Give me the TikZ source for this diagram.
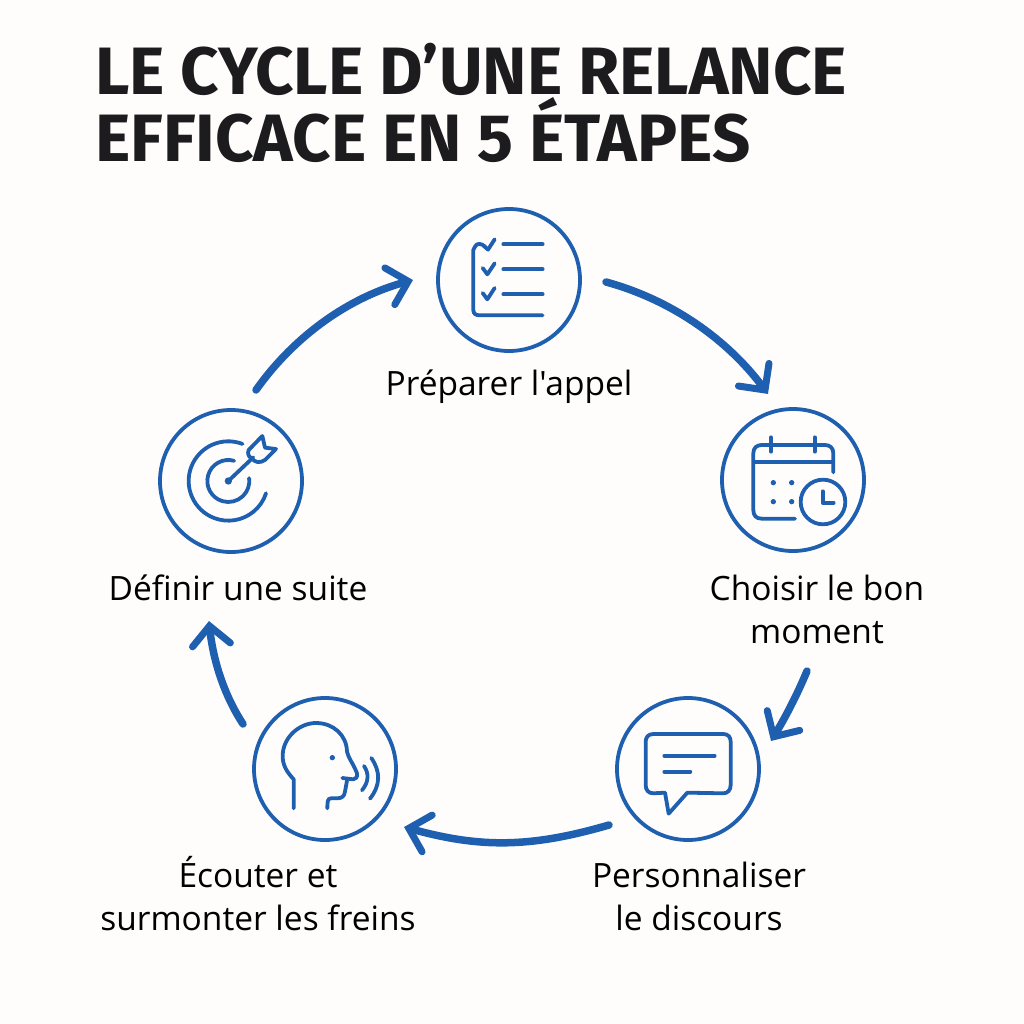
\documentclass[tikz,border=0pt]{standalone}
\usepackage{fontspec}
\newfontfamily\labfont{Open Sans}
\newfontfamily\titlefont{Fira Sans}
\usetikzlibrary{arrows.meta}
\definecolor{ink}{HTML}{1F5FB0}
\definecolor{paper}{HTML}{FEFDFB}
\definecolor{titleink}{HTML}{1C1C1E}
\pgfdeclarearrow{
  name=VHead,
  setup code={\pgfarrowssettipend{5pt}\pgfarrowssetlineend{-3pt}\pgfarrowssetbackend{-23pt}\pgfarrowsupperhullpoint{-23pt}{23pt}\pgfarrowshullpoint{5pt}{0pt}},
  drawing code={\pgfsetdash{}{0pt}\pgfsetlinewidth{7pt}\pgfsetroundcap\pgfsetmiterjoin\pgfpathmoveto{\pgfqpoint{-19pt}{19pt}}\pgfpathlineto{\pgfqpoint{0pt}{0pt}}\pgfpathlineto{\pgfqpoint{-19pt}{-19pt}}\pgfusepathqstroke}
}
\tikzset{
  stepcircle/.style={draw=ink,line width=3.8pt,circle,minimum size=142pt,inner sep=0pt},
  flow/.style={draw=ink,line width=7.5pt,line cap=round,-{VHead}},
  ico/.style={draw=ink,line width=3.8pt,line cap=round,line join=round},
  lab/.style={font=\labfont\fontsize{33.5}{43}\selectfont,text=black,align=center,inner sep=0pt},
  ttl/.style={font=\titlefont\bfseries\fontsize{67}{71}\selectfont,text=titleink,anchor=base west,inner sep=0pt}
}
\begin{document}
\begin{tikzpicture}[x=1pt,y=-1pt]
\useasboundingbox (0,0) rectangle (1024,1024);
\fill[paper] (0,0) rectangle (1024,1024);
\node[ttl] (t1) at (95,95) {LE CYCLE D’UNE RELANCE};
\node[ttl] (t2) at (95,162) {EFFICACE EN 5 ÉTAPES};
\node[stepcircle] (c1) at (509,280) {};
\node[stepcircle] (c2) at (793,480) {};
\node[stepcircle] (c3) at (688,769) {};
\node[stepcircle] (c4) at (325,769) {};
\node[stepcircle] (c5) at (231,481) {};
\node[lab] (l1) at (509,387) {Préparer l'appel};
\node[lab] (l2) at (817,609) {Choisir le bon\\moment};
\node[lab] (l3) at (699,896) {Personnaliser\\le discours};
\node[lab] (l4) at (258,894) {Écouter et\\surmonter les freins};
\node[lab] (l5) at (238,588) {Définir une suite};
\coordinate (a1s) at (606,282); \coordinate (a1e) at (768,394);
\coordinate (a2s) at (807,671); \coordinate (a2e) at (771,741);
\coordinate (a3s) at (609,825); \coordinate (a3e) at (404,827);
\coordinate (a4s) at (243,724); \coordinate (a4e) at (209,621);
\coordinate (a5s) at (256,390); \coordinate (a5e) at (413,280);
\draw[flow] (a1s) .. controls (672,300) and (728,340) .. (a1e);
\draw[flow] (a2s) .. controls (797,695) and (785,718) .. (a2e);
\draw[flow] (a3s) .. controls (530,848) and (480,848) .. (a3e);
\draw[flow] (a4s) .. controls (224,695) and (213,660) .. (a4e);
\draw[flow] (a5s) .. controls (295,335) and (350,297) .. (a5e);
% checklist
\begin{scope}[shift={(430,200)},scale=0.3333]
\draw[ico] (165,140) .. controls (155,130) and (140,128) .. (135,140) -- (130,150) -- (130,330) .. controls (130,342) and (138,346) .. (150,346) -- (338,346);
\draw[ico] (162,138) -- (174,149) -- (194,118);
\draw[ico] (158,204) -- (172,223) -- (194,190);
\draw[ico] (158,279) -- (172,298) -- (194,264);
\draw[ico] (220,133) -- (338,133);
\draw[ico] (220,208) -- (338,208);
\draw[ico] (220,283) -- (338,283);
\end{scope}
% calendar
\begin{scope}[shift={(710,400)},scale=0.3333]
\draw[ico] (255,356) -- (155,356) .. controls (138,356) and (130,346) .. (130,330) -- (130,160) .. controls (130,144) and (140,135) .. (155,135) -- (345,135) .. controls (360,135) and (370,144) .. (370,160) -- (370,217);
\draw[ico] (132,186) -- (368,186);
\draw[ico] (183,112) -- (183,155);
\draw[ico] (314,112) -- (314,155);
\fill[ink] (190,248) circle (8) (245,248) circle (8) (190,305) circle (8) (245,305) circle (8);
\draw[ico] (339,306) circle (67);
\draw[ico] (338,274) -- (338,308) -- (371,308);
\end{scope}
% speech bubble
\begin{scope}[shift={(610,690)},scale=0.3333]
\draw[ico] (130,132) -- (340,132) .. controls (355,132) and (362,142) .. (362,155) -- (362,285) .. controls (362,300) and (353,310) .. (340,310) -- (232,308) -- (176,371) -- (165,308) -- (130,310) .. controls (115,310) and (107,300) .. (107,285) -- (107,155) .. controls (107,142) and (115,132) .. (130,132) -- cycle;
\draw[ico] (163,197) -- (314,197);
\draw[ico] (163,245) -- (241,245);
\end{scope}
% head
\begin{scope}[shift={(245,690)},scale=0.3333]
\draw[ico] (146,355) -- (146,268) .. controls (125,245) and (112,225) .. (113,195) .. controls (115,140) and (165,98) .. (215,99) .. controls (265,100) and (305,135) .. (306,185) .. controls (310,205) and (325,220) .. (336,250) .. controls (338,262) and (332,268) .. (325,268) -- (292,264);
\draw[ico] (306,272) -- (300,305) .. controls (298,320) and (290,325) .. (275,325) -- (258,325) .. controls (248,325) and (247,335) .. (247,355);
\fill[ink] (262,203) circle (8);
\draw[ico] (357,228) .. controls (372,250) and (372,275) .. (351,301);
\draw[ico] (379,204) .. controls (407,245) and (407,285) .. (375,326);
\end{scope}
% target
\begin{scope}[shift={(150,400)},scale=0.3333]
\draw[ico] (235,243) ++(-69:119) arc[start angle=-69,end angle=-342,radius=119];
\draw[ico] (235,243) ++(-74:63) arc[start angle=-74,end angle=-368,radius=63];
\fill[ink] (235,243) circle (11);
\draw[ico] (235,243) -- (310,172);
\draw[ico] (296,150) -- (337,108) -- (345,143) -- (378,147) -- (345,180) .. controls (330,190) and (315,188) .. (305,175) .. controls (295,170) and (292,160) .. (296,150) -- cycle;
\end{scope}
\end{tikzpicture}
\end{document}
